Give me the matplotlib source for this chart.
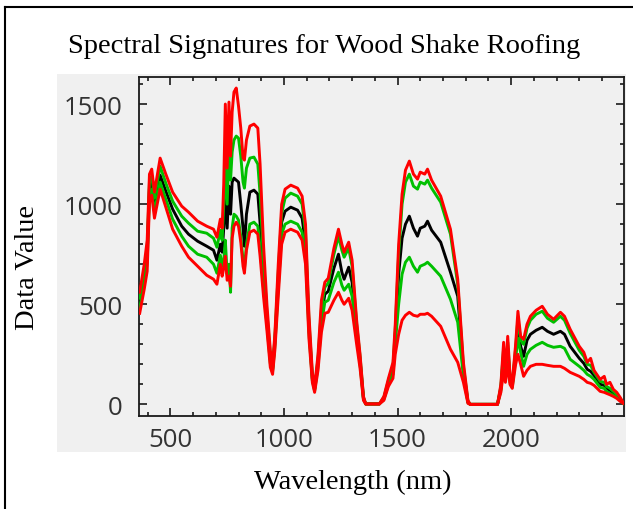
import matplotlib
matplotlib.use("Agg")
import matplotlib.pyplot as plt
from matplotlib.patches import Rectangle
from matplotlib.lines import Line2D
from matplotlib.ticker import MultipleLocator

# wavelength grid (nm)
wavelength = [365, 385, 398, 408, 418, 430, 455, 480, 510, 550, 580, 620, 660, 690, 705,
              720, 728, 735, 742, 750, 758, 765, 772, 780, 790, 800, 810, 820, 826, 835,
              850, 868, 885, 895, 910, 925, 940, 950, 960, 975, 990, 1005, 1030, 1060, 1080,
              1095, 1110, 1125, 1135, 1150, 1165, 1180, 1195, 1220, 1240, 1255, 1265, 1285, 1300, 1320,
              1335, 1350, 1360, 1420, 1440, 1460, 1480, 1490, 1505, 1520, 1535, 1552, 1570, 1588, 1600,
              1620, 1632, 1650, 1690, 1733, 1765, 1790, 1810, 1820, 1940, 1955, 1967, 1975, 1985, 1995,
              2005, 2020, 2030, 2042, 2055, 2070, 2085, 2110, 2137, 2160, 2187, 2217, 2235, 2260, 2300,
              2320, 2335, 2350, 2365, 2392, 2410, 2420, 2435, 2450, 2465, 2480, 2495]

# upper red curve
red_high = [560, 700, 820, 1150, 1175, 1060, 1230, 1150, 1060, 990, 960, 915, 890, 875, 835,
            925, 880, 1100, 1500, 1180, 1510, 1240, 1460, 1560, 1580, 1490, 1380, 1230, 1220, 1320,
            1390, 1400, 1380, 1200, 800, 500, 270, 195, 350, 700, 1000, 1075, 1095, 1080, 1040,
            900, 450, 160, 85, 250, 520, 610, 630, 780, 875, 800, 760, 810, 720, 420,
            250, 40, 2, 2, 40, 130, 210, 400, 800, 1050, 1170, 1215, 1150, 1125, 1160,
            1150, 1175, 1120, 1040, 875, 625, 210, 20, 0, 0, 100, 310, 150, 340, 150,
            110, 300, 465, 340, 325, 400, 440, 470, 490, 450, 425, 460, 440, 375, 290,
            260, 210, 230, 170, 125, 140, 100, 110, 75, 60, 35, 5]

# upper green curve
green_high = [530, 665, 780, 1110, 1140, 1030, 1190, 1105, 1015, 940, 905, 865, 855, 830, 785,
              870, 820, 1000, 1200, 1000, 1280, 1120, 1260, 1320, 1340, 1330, 1240, 1110, 1080, 1180,
              1230, 1235, 1200, 1050, 720, 460, 250, 185, 330, 660, 955, 1030, 1055, 1040, 1000,
              860, 420, 145, 80, 230, 480, 585, 605, 750, 840, 770, 735, 780, 690, 400,
              240, 35, 2, 2, 35, 120, 190, 370, 750, 1000, 1110, 1150, 1090, 1075, 1110,
              1100, 1120, 1080, 1010, 850, 600, 190, 15, 0, 0, 90, 280, 140, 310, 140,
              100, 280, 430, 320, 300, 380, 420, 450, 465, 430, 410, 440, 420, 355, 270,
              240, 200, 195, 160, 115, 110, 90, 80, 65, 50, 30, 5]

# mean (black)
mean_value = [505, 635, 745, 1080, 1105, 995, 1145, 1065, 975, 890, 850, 815, 790, 770, 720,
              800, 760, 880, 1040, 880, 1090, 950, 1110, 1130, 1120, 1110, 1000, 880, 790, 950,
              1060, 1070, 1050, 905, 650, 430, 225, 175, 310, 620, 910, 965, 985, 970, 930,
              800, 390, 130, 75, 210, 440, 550, 565, 680, 750, 660, 625, 685, 610, 370,
              220, 30, 2, 2, 30, 110, 170, 340, 650, 830, 900, 940, 880, 840, 880,
              890, 915, 870, 810, 660, 540, 170, 10, 0, 0, 80, 250, 130, 280, 130,
              95, 260, 390, 290, 240, 320, 350, 370, 385, 365, 350, 365, 350, 290, 230,
              205, 175, 165, 145, 100, 95, 80, 70, 50, 40, 25, 5]

# lower green curve
green_low = [480, 605, 705, 1045, 1075, 960, 1110, 1025, 925, 840, 790, 750, 735, 700, 655,
             745, 690, 720, 820, 650, 700, 560, 880, 950, 940, 920, 840, 720, 675, 800,
             900, 910, 890, 780, 580, 400, 205, 165, 290, 580, 850, 900, 915, 900, 860,
             740, 360, 120, 68, 190, 400, 510, 520, 610, 660, 595, 570, 600, 540, 340,
             200, 25, 2, 2, 25, 100, 150, 300, 500, 650, 710, 735, 690, 660, 690,
             700, 710, 690, 640, 525, 410, 140, 8, 0, 0, 70, 200, 120, 240, 110,
             85, 230, 330, 260, 190, 250, 275, 295, 310, 295, 285, 290, 280, 225, 190,
             170, 150, 140, 125, 85, 80, 65, 55, 45, 35, 20, 5]

# lower red curve
red_low = [455, 575, 665, 1010, 1045, 930, 1075, 985, 875, 790, 735, 690, 645, 625, 600,
           700, 640, 680, 740, 620, 640, 590, 830, 890, 910, 890, 810, 690, 655, 770,
           860, 870, 850, 740, 540, 370, 185, 150, 270, 540, 800, 860, 875, 860, 820,
           700, 330, 110, 60, 170, 360, 455, 460, 520, 560, 520, 500, 530, 470, 300,
           180, 20, 2, 2, 20, 90, 130, 250, 350, 420, 445, 460, 445, 440, 450,
           450, 455, 440, 390, 275, 210, 110, 5, 0, 0, 60, 170, 110, 200, 100,
           80, 200, 250, 200, 140, 170, 190, 200, 200, 195, 190, 190, 180, 160, 140,
           125, 110, 105, 95, 65, 60, 55, 48, 40, 30, 15, 5]

serif = ["Liberation Serif", "DejaVu Serif"]
panel_grey = "#f0f0f0"

fig = plt.figure(figsize=(6.33, 5.10), dpi=100)

# outer frame (screenshot border) and grey plot panel
fig.add_artist(Line2D([0.008, 0.008], [0.0, 0.984], color="black", lw=1.5))
fig.add_artist(Line2D([0.008, 1.0], [0.984, 0.984], color="black", lw=1.5))
fig.add_artist(Rectangle((0.090, 0.112), 0.899, 0.741, facecolor=panel_grey,
                         edgecolor="none", zorder=0))

ax = fig.add_axes([0.2196, 0.1824, 0.7662, 0.6646])
ax.set_facecolor(panel_grey)

lw = 2.1
ax.plot(wavelength, mean_value, color="black", lw=lw, zorder=3)
ax.plot(wavelength, green_high, color="#00c000", lw=lw, zorder=4)
ax.plot(wavelength, green_low, color="#00c000", lw=lw, zorder=4)
ax.plot(wavelength, red_high, color="#ff0000", lw=lw, zorder=5)
ax.plot(wavelength, red_low, color="#ff0000", lw=lw, zorder=5)

ax.set_xlim(362, 2497)
ax.set_ylim(-58, 1635)
ax.xaxis.set_major_locator(MultipleLocator(500))
ax.xaxis.set_minor_locator(MultipleLocator(100))
ax.yaxis.set_major_locator(MultipleLocator(500))
ax.yaxis.set_minor_locator(MultipleLocator(100))
ax.tick_params(which="both", direction="in", top=True, right=True,
               width=1.2, colors="#1a1a1a", labelcolor="#333333", labelsize=18.5)
ax.tick_params(which="major", length=5.5)
ax.tick_params(which="minor", length=3.2)
ax.tick_params(axis="y", pad=12)
ax.tick_params(axis="x", pad=8)
for lab in ax.get_xticklabels() + ax.get_yticklabels():
    lab.set_family("Open Sans")
for sp in ax.spines.values():
    sp.set_linewidth(1.3)
    sp.set_color("#1a1a1a")

fig.text(0.512, 0.908, "Spectral Signatures for Wood Shake Roofing",
         family=serif, fontsize=20.5, ha="center", va="center")
fig.text(0.558, 0.055, "Wavelength (nm)", family=serif, fontsize=20.5,
         ha="center", va="center")
fig.text(0.043, 0.475, "Data Value", family=serif, fontsize=20.5,
         ha="center", va="center", rotation=90)

fig.savefig("out.png", dpi=100)
